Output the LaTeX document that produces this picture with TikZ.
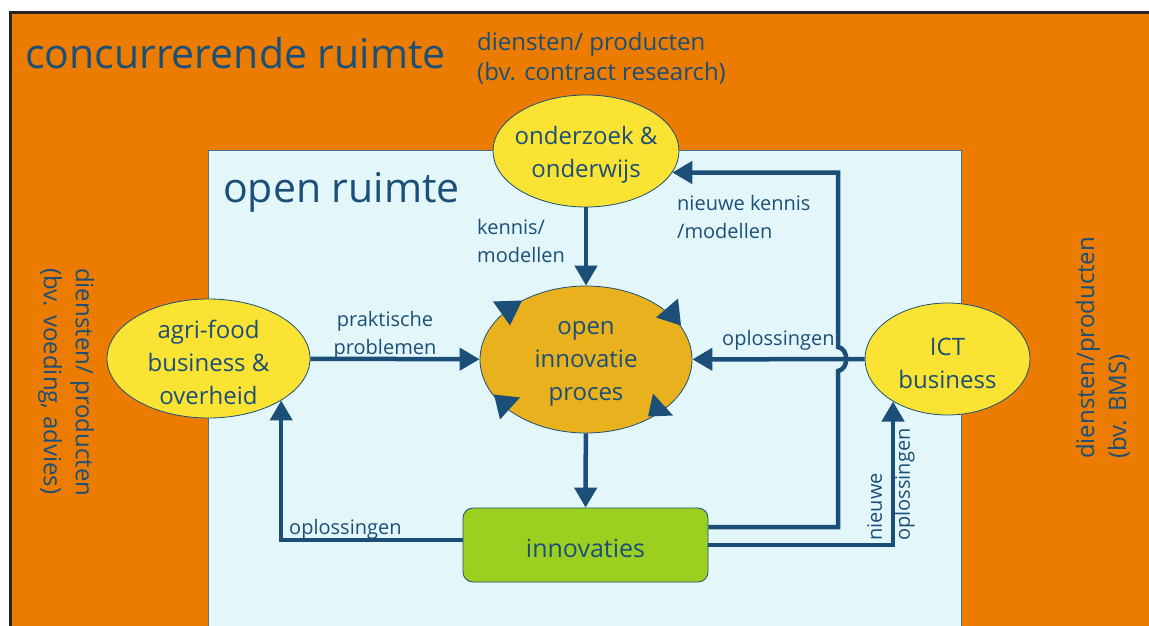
\documentclass[tikz,border=0pt]{standalone}
\usepackage{fontspec}
\setmainfont{Open Sans}
\usetikzlibrary{shapes.geometric,arrows.meta,positioning,calc}

\definecolor{concorange}{HTML}{EB7C00}
\definecolor{opencyan}{HTML}{E3F7FA}
\definecolor{darkblue}{HTML}{1C4F78}
\definecolor{actoryellow}{HTML}{FAE333}
\definecolor{procorange}{HTML}{E9B11E}
\definecolor{innogreen}{HTML}{9BD020}

\tikzset{
  actor/.style={ellipse, draw=darkblue, line width=0.8pt, fill=actoryellow, inner sep=0pt},
  actortext/.style={text=darkblue, align=center, inner sep=0pt, font=\fontsize{24}{33}\selectfont},
  spacetitle/.style={text=darkblue, inner sep=0pt, font=\fontsize{41}{41}\selectfont},
  services/.style={text=darkblue, align=left, inner sep=0pt, font=\fontsize{24}{32}\selectfont},
  flow/.style={draw=darkblue, line width=4.5pt, -{Triangle[length=20pt,width=22pt]}},
  flowlabel/.style={text=darkblue, inner sep=0pt, font=\fontsize{20}{28}\selectfont},
}

\begin{document}
\begin{tikzpicture}[x=1pt,y=-1pt]
  \useasboundingbox (0,0) rectangle (1149,626);
  \fill[white] (0,0) rectangle (1149,626);

  % Draw the competitive space and the open space
  \fill[concorange] (10,13) rectangle (1152,630);
  \draw[black!85, line width=3pt] (10,630) -- (10,13) -- (1152,13);
  \filldraw[fill=opencyan, draw=darkblue!80, line width=0.8pt] (208,150) rectangle (961,632);

  % Titles of the two spaces
  \node[spacetitle, anchor=base west] (concspace) at (25,69) {concurrerende ruimte};
  \node[spacetitle, anchor=base west] (openspace) at (223,202) {open ruimte};

  % Services around the edges
  \node[services, font=\fontsize{24}{30}\selectfont, anchor=west] (srvtop) at (477,58) {diensten/ producten\\(bv. contract research)};
  \node[services, rotate=-90, anchor=west] (srvleft) at (66,268) {diensten/ producten\\(bv. voeding, advies)};
  \node[services, rotate=90, anchor=west] (srvright) at (1103,459) {diensten/producten\\(bv. BMS)};

  % Actors
  \node[actor, minimum width=186pt, minimum height=112pt] (onder) at (586,151) {};
  \node[actor, minimum width=203pt, minimum height=119pt] (agri) at (208.5,358.5) {};
  \node[actor, minimum width=165pt, minimum height=112pt] (ict) at (947.5,359) {};
  \node[actor, fill=procorange, minimum width=212pt, minimum height=147pt] (proc) at (586,359.5) {};
  \node[draw=darkblue, line width=0.8pt, fill=innogreen, rounded corners=10pt,
        minimum width=245pt, minimum height=74pt] (innov) at (585.5,545) {};

  % Texts of the actors
  \node[actortext] (ondertext) at ([yshift=-4pt]onder.center) {onderzoek \&\\onderwijs};
  \node[actortext] (agritext) at ([yshift=-4pt]agri.center) {agri-food\\business \&\\overheid};
  \node[actortext] (icttext) at ([yshift=-4pt]ict.center) {ICT\\business};
  \node[actortext] (proctext) at ([yshift=-4pt]proc.center) {open\\innovatie\\proces};
  \node[actortext, font=\fontsize{25}{33}\selectfont] (innovtext) at ([yshift=-3pt]innov.center) {innovaties};

  % Rotation of the open innovation process
  \foreach \ax/\ay/\bx/\by/\cx/\cy in {-93/-58/-64/-59/-76/-34, 92/-61/70/-42/95/-34,
                                       67/34/62/57/87/56, -92/35/-86/60/-66/38}
    \fill[darkblue, shift={(proc.center)}] (\ax,\ay) -- (\bx,\by) -- (\cx,\cy) -- cycle;

  % Flows between the actors
  \draw[flow] (onder) -- (proc);
  \draw[flow] (agri) -- (proc);
  \draw[flow] (ict) -- (proc);
  \draw[flow] (proc) -- (innov);
  \draw[flow] ([yshift=5pt]innov.west) -| (agri.-30.5);
  \draw[flow] ([yshift=18pt]innov.east) -| (838,371)
    .. controls (849,369) and (849,349) .. (838,347) |- (onder.-14.4);
  \draw[flow] (innov.east) -| (ict.-142.4);

  % Labels of the flows
  \node[flowlabel, align=left, anchor=west] (lbkennis) at (477,241) {kennis/\\modellen};
  \node[flowlabel, align=center] (lbprobl) at (385,335) {praktische\\problemen};
  \node[flowlabel, align=left, anchor=west] (lbnieuwkennis) at (677,217) {nieuwe kennis\\/modellen};
  \node[flowlabel, anchor=base west] (lboplict) at (722,345) {oplossingen};
  \node[flowlabel, anchor=base west] (lboplagri) at (289,534) {oplossingen};
  \node[flowlabel, align=left, rotate=90, anchor=west] (lbnieuwopl) at (891,541) {nieuwe\\oplossingen};
\end{tikzpicture}
\end{document}
